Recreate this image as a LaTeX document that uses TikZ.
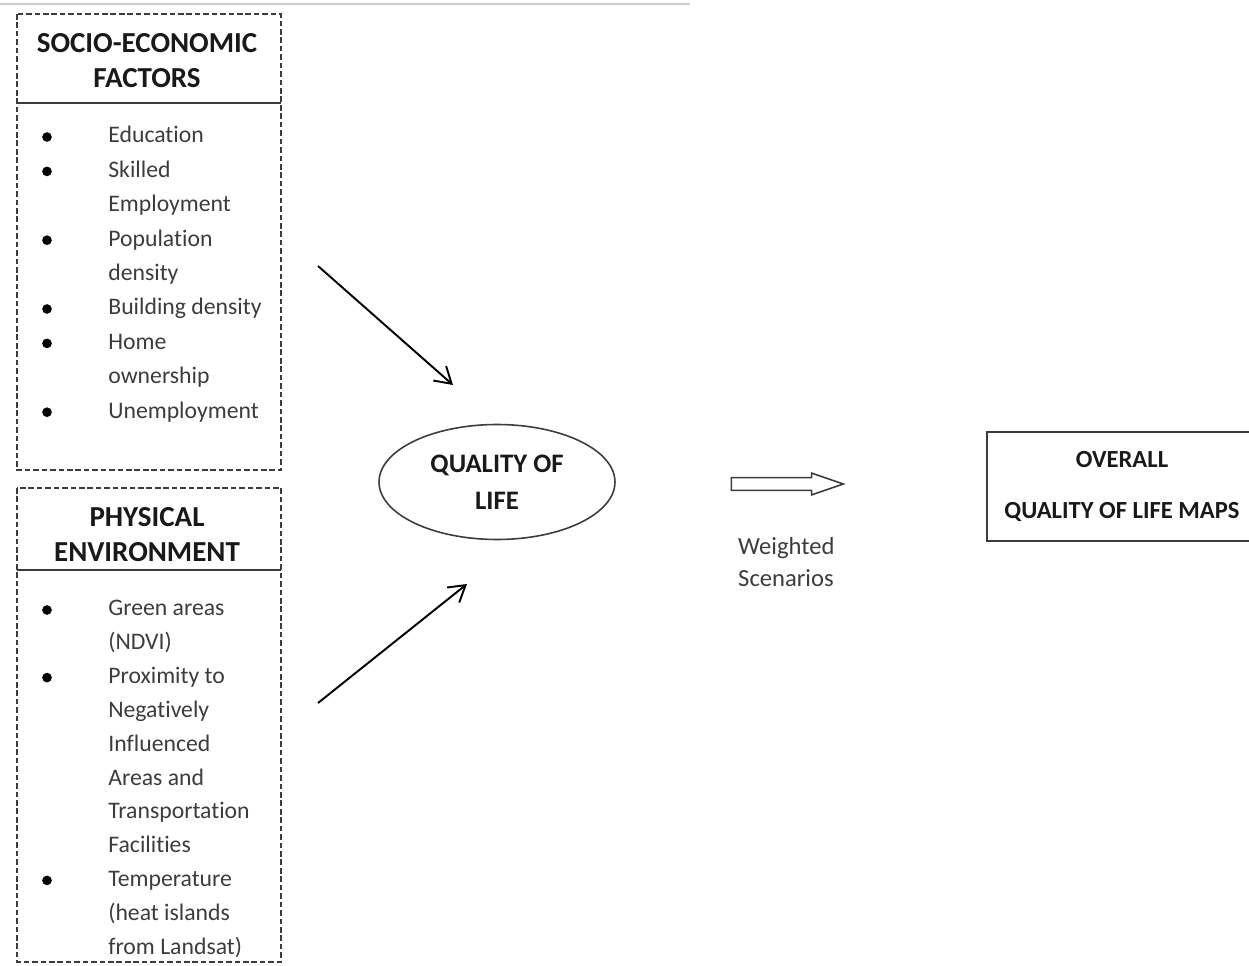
\documentclass[tikz,border=0pt]{standalone}
\usepackage{fontspec}
\setmainfont{Carlito}[Ligatures=NoCommon]
\usetikzlibrary{shapes,arrows.meta,positioning}
\definecolor{inkgray}{RGB}{60,60,60}
\definecolor{rulegray}{RGB}{200,208,214}

\begin{document}
\begin{tikzpicture}[x=0.02cm, y=-0.02cm,
  dashbox/.style={draw=inkgray, line width=0.9pt, dash pattern=on 3.2pt off 1.6pt},
  headrule/.style={draw=inkgray, line width=1.3pt},
  head/.style={font=\fontsize{16.5}{19.9}\selectfont\bfseries, align=center, text=black!90},
  item/.style={font=\fontsize{13.5}{16}\selectfont, anchor=base west, inner sep=0pt, text=inkgray},
  bulletdot/.style={circle, fill=black, inner sep=0pt, minimum size=5.5pt},
  flow/.style={line width=1.1pt, -{Straight Barb[length=9pt, width=11pt]}}]
  \useasboundingbox (0,0) rectangle (1249,966);
  \draw[rulegray, line width=1.2pt] (0,4) -- (690,4);

  % Socio-economic factors
  \draw[dashbox] (17,14) rectangle (281,470);
  \node[head] (se-head) at (147,61) {SOCIO-ECONOMIC\\FACTORS};
  \draw[headrule] (17,103) -- (281,103);
  \foreach \t/\b [count=\i from 0] in {Education/1, Skilled/1, Employment/0, Population/1, density/0,
      Building density/1, Home/1, ownership/0, Unemployment/1}{
    \node[item] (se-\i) at (108,{136+34.4*\i+7}) {\t};
    \ifnum\b=1 \node[bulletdot] (se-b\i) at (47,{136+34.4*\i+1}) {}; \fi
  }

  % Physical environment
  \draw[dashbox] (17,488) rectangle (281,962);
  \node[head] (pe-head) at (147,535) {PHYSICAL\\ENVIRONMENT};
  \draw[headrule] (17,570) -- (281,570);
  \foreach \t/\b [count=\i from 0] in {Green areas/1, {(NDVI)}/0, Proximity to/1, Negatively/0, Influenced/0,
      Areas and/0, Transportation/0, Facilities/0, Temperature/1, {(heat islands}/0, {from Landsat)}/0}{
    \node[item] (pe-\i) at (108,{609+33.8*\i+7}) {\t};
    \ifnum\b=1 \node[bulletdot] (pe-b\i) at (47,{609+33.8*\i+1}) {}; \fi
  }

  % Quality of life
  \node[draw=inkgray, line width=0.9pt, ellipse, minimum width=4.72cm, minimum height=2.3cm,
        font=\fontsize{15.2}{21}\selectfont\bfseries, align=center, text=black!90] (qol) at (497,482) {QUALITY OF\\LIFE};
  \coordinate (se-out) at (318,266);
  \coordinate (qol-in1) at (453,385);
  \coordinate (pe-out) at (318,703);
  \coordinate (qol-in2) at (467,584);
  \draw[flow] (se-out) -- (qol-in1);
  \draw[flow] (pe-out) -- (qol-in2);

  % Weighted scenarios
  \node[single arrow, draw=inkgray, line width=0.9pt, inner sep=3.2pt, minimum height=2.24cm,
        single arrow head extend=0.09cm, single arrow tip angle=38] (ws-arrow) at (778,484) {};
  \node[font=\fontsize{14}{18}\selectfont, align=left, anchor=west, text=inkgray] (ws) at (732,562) {Weighted\\Scenarios};

  % Overall maps
  \node[draw=inkgray, line width=1pt, minimum width=5.4cm, minimum height=2.18cm,
        font=\fontsize{14}{29}\selectfont\bfseries, align=center, text=black!90] (maps) at (1122,486.5)
        {OVERALL\\QUALITY OF LIFE MAPS};
\end{tikzpicture}
\end{document}
